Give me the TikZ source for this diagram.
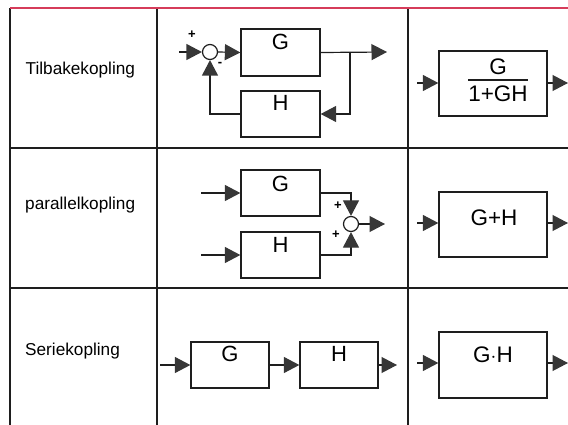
\documentclass[tikz,border=0pt]{standalone}
\usepackage{fontspec}
\setmainfont{Liberation Sans}
\usetikzlibrary{arrows.meta}
\definecolor{tblred}{RGB}{214,60,90}
\definecolor{ink}{RGB}{30,30,30}
\definecolor{tipc}{RGB}{55,55,55}
\begin{document}
\begin{tikzpicture}[x=1pt,y=-1pt,
  box/.style={draw=ink,line width=1.3pt,minimum width=79pt,minimum height=46pt,inner sep=0pt},
  rbox/.style={draw=ink,line width=1.3pt,minimum width=108pt,minimum height=65pt,inner sep=0pt},
  sumc/.style={circle,draw=ink,line width=1.2pt,minimum size=15pt,inner sep=0pt},
  lbl/.style={inner sep=0pt,font=\fontsize{22}{22}\selectfont},
  rlbl/.style={inner sep=0pt,font=\fontsize{22.5}{22.5}\selectfont},
  rowlbl/.style={anchor=west,inner sep=0pt,font=\fontsize{17.2}{17.2}\selectfont},
  sgn/.style={inner sep=0pt,font=\fontsize{13}{13}\selectfont\bfseries},
  conn/.style={draw=ink,line width=1.2pt},
  arr/.style={conn,-{Triangle[length=15.5pt,width=16pt,color=tipc]}},
  grid/.style={draw=ink,line width=1.4pt}]
\useasboundingbox (0,0) rectangle (568,425);
% table
\draw[grid] (10,8) -- (10,425);
\draw[grid] (157,8) -- (157,425);
\draw[grid] (408,8) -- (408,425);
\draw[grid] (10,148) -- (568,148);
\draw[grid] (10,288) -- (568,288);
\draw[tblred,line width=1.5pt] (10,8) -- (568,8);
% row labels
\node[rowlbl] (t1) at (25.5,70.5) {Tilbakekopling};
\node[rowlbl] (t2) at (25,205.5) {parallelkopling};
\node[rowlbl] (t3) at (25,351.5) {Seriekopling};
% ---- row 1: feedback
\node[sumc] (s1) at (210,52) {};
\coordinate (in1) at (179,52);
\node[box,minimum height=47pt] (g1) at (280.5,52.5) {};
\node[lbl] (g1t) at (280.5,42) {G};
\node[box] (h1) at (280.5,114) {};
\node[lbl] (h1t) at (280.5,103) {H};
\coordinate (b1) at (350,52);
\coordinate (o1) at (387,52);
\draw[arr] (in1) -- (s1.west);
\draw[arr] (s1.east) -- (g1.west);
\draw[arr] (g1.east) -- (o1);
\draw[arr] (b1) |- (h1.east);
\draw[arr] (h1.west) -| (s1.south);
\node[sgn] (p1) at (192,35) {+};
\node[sgn] (m1) at (220,64) {-};
% ---- row 2: parallel
\node[box] (g2) at (280.5,193) {};
\node[lbl] (g2t) at (280.5,184) {G};
\node[box] (h2) at (280.5,255) {};
\node[lbl] (h2t) at (280.5,245) {H};
\coordinate (in2a) at (201,193);
\coordinate (in2b) at (201,255);
\node[sumc] (s2) at (351,224) {};
\coordinate (o2) at (385,224);
\draw[arr] (in2a) -- (g2.west);
\draw[arr] (in2b) -- (h2.west);
\draw[arr] (g2.east) -| (s2.north);
\draw[arr] (h2.east) -| (s2.south);
\draw[arr] (s2.east) -- (o2);
\node[sgn] (p2) at (338,206) {+};
\node[sgn] (p3) at (336,235) {+};
% ---- row 3: series
\node[box,minimum width=78pt] (g3) at (230,365) {};
\node[lbl] (g3t) at (230,354) {G};
\node[box,minimum width=78pt] (h3) at (339,365) {};
\node[lbl] (h3t) at (339,354) {H};
\coordinate (in3) at (160,365);
\coordinate (o3) at (397,365);
\draw[arr] (in3) -- (g3.west);
\draw[arr] (g3.east) -- (h3.west);
\draw[arr] (h3.east) -- (o3);
% ---- right column
\node[rbox] (r1) at (493,83.5) {};
\node[rlbl] (r1n) at (498,67) {G};
\node[rlbl] (r1d) at (498,94) {1+GH};
\draw[ink,line width=1.2pt] (468,80) -- (528,80);
\coordinate (ri1) at (417,83);
\coordinate (ro1) at (568,83);
\draw[arr] (ri1) -- (r1.west |- ri1);
\draw[arr] (r1.east |- ro1) -- (ro1);
\node[rbox] (r2) at (493,224.5) {};
\node[rlbl] (r2t) at (494,218) {G+H};
\coordinate (ri2) at (417,223);
\coordinate (ro2) at (568,223);
\draw[arr] (ri2) -- (r2.west |- ri2);
\draw[arr] (r2.east |- ro2) -- (ro2);
\node[rbox,minimum height=66pt] (r3) at (493,365) {};
\node[rlbl] (r3t) at (493,355) {G$\cdot$H};
\coordinate (ri3) at (417,363);
\coordinate (ro3) at (568,363);
\draw[arr] (ri3) -- (r3.west |- ri3);
\draw[arr] (r3.east |- ro3) -- (ro3);
\end{tikzpicture}
\end{document}
